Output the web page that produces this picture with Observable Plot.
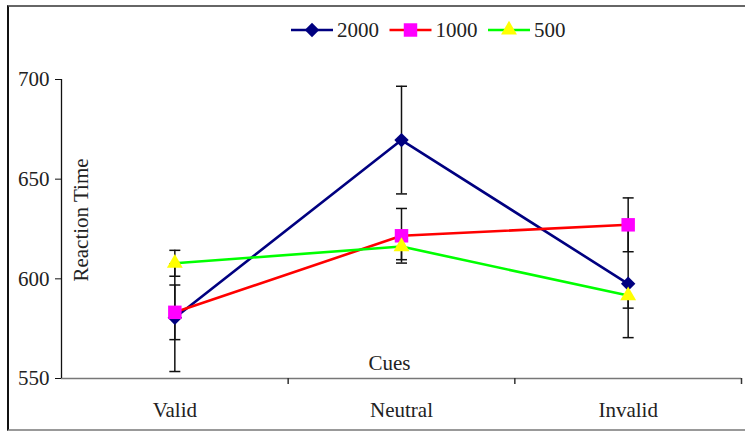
<!DOCTYPE html>
<html><head><meta charset="utf-8">
<script src="https://cdn.jsdelivr.net/npm/d3@7"></script>
<script src="https://cdn.jsdelivr.net/npm/@observablehq/plot@0.6"></script>
<style>
body{margin:0;background:#fff;}
#wrap{position:relative;width:745px;height:431px;overflow:hidden;font-family:"Liberation Serif",serif;}
#frame{position:absolute;left:7px;top:5px;width:760px;height:422px;border-left:2px solid #111;border-top:2px solid #666;border-bottom:2px solid #999;}
#chart{position:absolute;left:0;top:0;}
#chart svg, #chart svg text{font-family:"Liberation Serif",serif;}
#legend{position:absolute;left:0;top:0;}
</style></head><body>
<div id="wrap"><div id="frame"></div><div id="chart"></div><svg id="legend" width="745" height="60"></svg></div>
<script>
const cues = ["Valid", "Neutral", "Invalid"];
const series = ["2000", "1000", "500"];
const rt2000 = [580.5, 669.6, 597.5];
const rt1000 = [583.2, 621.6, 627.1];
const rt500 = [607.8, 616.2, 591.6];
const err2000 = [27, 27, 27];
const err1000 = [13.7, 13.7, 13.5];
const err500 = [6.5, 6.6, 6.3];
const yTicks = [550, 600, 650, 700];
const lineColors = ["#000080", "#FF0000", "#00FF00"];
const markerFills = ["#000080", "#FF00FF", "#FFFF00"];
const markerSymbols = [d3.symbolDiamond2, d3.symbolSquare, d3.symbolTriangle];
const markerR = [6.5, 7.6, 5.9];

const values = [rt2000, rt1000, rt500];
const errs = [err2000, err1000, err500];
const rows = series.flatMap((s, si) => cues.map((c, ci) => ({series: s, si, cue: c, i: ci, rt: values[si][ci], err: errs[si][ci]})));
const caps = rows.flatMap(d => [{i: d.i, y: d.rt - d.err}, {i: d.i, y: d.rt + d.err}]);
const capSymbol = {draw(ctx) { ctx.moveTo(-5.5, 0); ctx.lineTo(5.5, 0); }};

const seriesMarks = [];
series.forEach((s, si) => {
  const data = rows.filter(d => d.si === si);
  seriesMarks.push(Plot.line(data, {x: "i", y: "rt", stroke: lineColors[si], strokeWidth: 2.6}));
});
series.forEach((s, si) => {
  const data = rows.filter(d => d.si === si);
  seriesMarks.push(Plot.dot(data, {x: "i", y: "rt", symbol: markerSymbols[si], r: markerR[si], fill: markerFills[si], stroke: "none"}));
});

const chart = Plot.plot({
  width: 745, height: 431,
  marginLeft: 61, marginRight: 4, marginTop: 79, marginBottom: 53,
  style: {fontFamily: "Liberation Serif, serif", fontSize: "21px", background: "transparent", color: "#222"},
  x: {domain: [-0.5, 2.5], axis: null},
  y: {domain: [550, 700], axis: null},
  marks: [
    Plot.ruleY([550], {stroke: "#777", strokeWidth: 1.6}),
    Plot.ruleX([-0.5], {y1: 550, y2: 700, stroke: "#111", strokeWidth: 1.3}),
    Plot.axisY({ticks: yTicks, tickSize: 6, tickPadding: 6, stroke: "#111", strokeOpacity: 1, label: null, fontSize: 21, tickFormat: d => String(d)}),
    Plot.axisX({ticks: [0, 1, 2], tickSize: 0, tickPadding: 24, tickFormat: i => cues[i], label: null, fontSize: 21}),
    Plot.axisX({ticks: [0.5, 1.5, 2.5], tickSize: 6, tickFormat: () => "", label: null, stroke: "#333", strokeOpacity: 1, strokeWidth: 1.5}),
    Plot.text(["Reaction Time"], {frameAnchor: "left", dx: 20, dy: -9, rotate: -90, textAnchor: "middle", fontSize: 21, fill: "#222"}),
    Plot.text(["Cues"], {frameAnchor: "bottom", dx: -12, dy: -9, textAnchor: "middle", fontSize: 21, fill: "#222"}),
    Plot.ruleX(rows, {x: "i", y1: d => d.rt - d.err, y2: d => d.rt + d.err, stroke: "#111", strokeWidth: 1.5}),
    Plot.dot(caps, {x: "i", y: "y", symbol: capSymbol, r: 5, fill: "none", stroke: "#111", strokeWidth: 1.5}),
    ...seriesMarks
  ]
});
document.getElementById("chart").appendChild(chart);

// legend
const leg = d3.select("#legend");
series.forEach((s, si) => {
  const x0 = 291 + si * 98.5;
  const g = leg.append("g");
  g.append("line").attr("x1", x0).attr("x2", x0 + 42).attr("y1", 30).attr("y2", 30)
    .attr("stroke", lineColors[si]).attr("stroke-width", 2.6);
  g.append("path").attr("transform", `translate(${x0 + 21},30)`)
    .attr("d", d3.symbol(markerSymbols[si], markerR[si] * markerR[si] * Math.PI)())
    .attr("fill", markerFills[si]);
  g.append("text").attr("x", x0 + 46).attr("y", 37).attr("font-size", 21)
    .attr("font-family", "Liberation Serif, serif").attr("fill", "#222").text(s);
});
</script>
</body></html>
